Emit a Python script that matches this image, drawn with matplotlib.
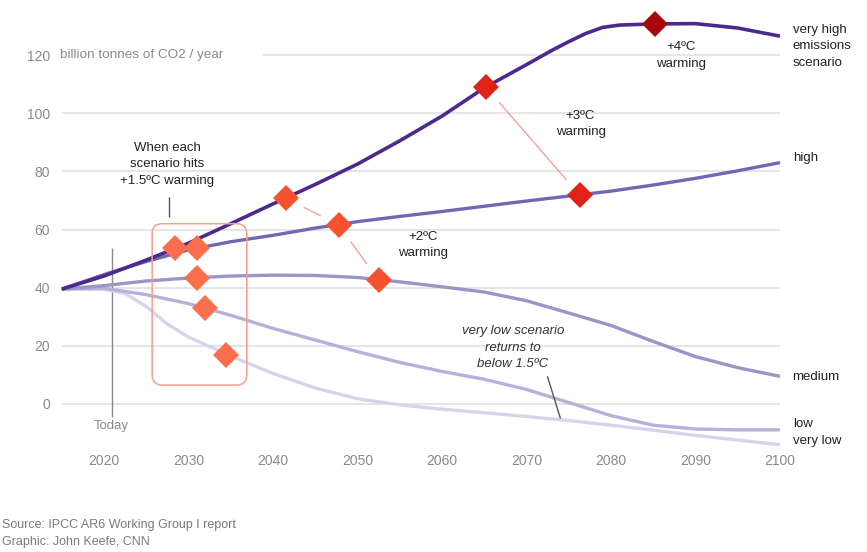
import matplotlib
matplotlib.use("Agg")
import matplotlib.pyplot as plt
from matplotlib.patches import FancyBboxPatch

plt.rcParams['font.family'] = ['Liberation Sans', 'DejaVu Sans']

# ---- data ----
vh_years = [2015, 2020, 2025, 2030, 2035, 2040, 2045, 2050, 2055, 2060, 2065, 2070,
            2073, 2075, 2077, 2079, 2081, 2085, 2090, 2095, 2100]
vh_vals = [39.5, 44, 49.5, 55.3, 62, 68.8, 75.5, 82.5, 90.5, 99, 108.7, 116.7,
           121.6, 124.6, 127.4, 129.5, 130.3, 130.7, 130.8, 129.3, 126.5]

hi_years = [2015, 2020, 2025, 2030, 2035, 2040, 2045, 2050, 2055, 2060, 2065, 2070,
            2075, 2080, 2085, 2090, 2095, 2100]
hi_vals = [39.5, 44.5, 49, 53, 55.8, 58, 60.5, 62.7, 64.5, 66.2, 68, 69.8,
           71.5, 73.2, 75.3, 77.6, 80.2, 83]

med_years = hi_years
med_vals = [39.5, 40.7, 42.3, 43.3, 44, 44.3, 44.2, 43.5, 42, 40.3, 38.5, 35.5,
            31.3, 27, 21.5, 16.3, 12.5, 9.5]

low_years = hi_years
low_vals = [39.5, 39.8, 37.6, 34.5, 30.5, 26, 22, 18, 14.3, 11.2, 8.5, 5,
            0.5, -4, -7.3, -8.6, -8.9, -8.9]

vl_years = [2015, 2020, 2022.5, 2025, 2027.5, 2030, 2035, 2040, 2045, 2050, 2055,
            2060, 2065, 2070, 2075, 2080, 2085, 2090, 2095, 2100]
vl_vals = [39.5, 39.5, 38, 33.5, 27.5, 23, 16.5, 10.5, 5.5, 1.8, -0.3,
           -1.8, -3, -4.3, -5.7, -7.3, -9, -10.8, -12.4, -14]

series_names = ["very high\nemissions\nscenario", "high", "medium", "low", "very low"]

# warming threshold crossings (year, emissions)
w15_years = [2028.4, 2031.0, 2031.0, 2031.9, 2034.4]
w15_vals = [53.6, 53.6, 43.3, 33.0, 16.8]
w20_years = [2041.5, 2047.8, 2052.5]
w20_vals = [70.8, 61.5, 42.5]
w30_years = [2065.2, 2076.3]
w30_vals = [109.0, 71.8]
w40_years = [2085.2]
w40_vals = [130.8]

y_ticks = [0, 20, 40, 60, 80, 100, 120]
x_ticks = [2020, 2030, 2040, 2050, 2060, 2070, 2080, 2090, 2100]
today_year = 2021

# ---- figure ----
fig = plt.figure(figsize=(8.67, 5.52), dpi=100)
ax = fig.add_axes([0.07122, 0.1786, 0.8284, 0.8165])
ax.set_xlim(2015, 2100)
ax.set_ylim(-17, 138)
for s in ax.spines.values():
    s.set_visible(False)

grid_c = "#e4e4e4"
for t in y_ticks:
    if t == 120:
        ax.hlines(t, 2038.8, 2100, color=grid_c, lw=1.3, zorder=0)
    else:
        ax.axhline(t, color=grid_c, lw=1.3, zorder=0)

ax.set_yticks(y_ticks)
ax.set_xticks(x_ticks)
ax.tick_params(axis='y', length=0, pad=8.5, labelsize=10, labelcolor="#8a8a8a")
ax.tick_params(axis='x', length=0, pad=0.5, labelsize=10, labelcolor="#8a8a8a")

ax.text(2014.8, 120, "billion tonnes of CO2 / year", ha='left', va='center',
        fontsize=9.7, color="#8a8a8a")

# Today line
ax.vlines(today_year, -4.5, 53.6, color="#8a8a8a", lw=1, zorder=1)
ax.text(today_year - 0.1, -7.5, "Today", ha='center', va='center', fontsize=9.5, color="#8a8a8a")

# lines
colors = ["#4a2b8d", "#7267b3", "#9b95c6", "#b5b1d8", "#d6d4eb"]
lws = [2.6, 2.4, 2.4, 2.4, 2.4]
data = [(vh_years, vh_vals), (hi_years, hi_vals), (med_years, med_vals),
        (low_years, low_vals), (vl_years, vl_vals)]
for i in range(4, -1, -1):
    x, y = data[i]
    ax.plot(x, y, color=colors[i], lw=lws[i], solid_capstyle='butt',
            solid_joinstyle='round', zorder=2 + (4 - i) * 0.1, clip_on=False)

txt_c = "#222222"
fs = 9.5
ls_ = 1.5

# right labels
label_pos = [123, 84.6, 9.3, -6.9, -12.7]
for name, yv in zip(series_names, label_pos):
    ax.text(2101.5, yv, name, ha='left', va='center', fontsize=fs, color=txt_c,
            linespacing=ls_)

# connectors
conn_c = "#f0a393"
def connect(xs, ys):
    for k in range(len(xs) - 1):
        ax.annotate("", xy=(xs[k + 1], ys[k + 1]), xytext=(xs[k], ys[k]),
                    arrowprops=dict(arrowstyle='-', color=conn_c, lw=1,
                                    shrinkA=15, shrinkB=15), zorder=3)
connect(w20_years, w20_vals)
connect(w30_years, w30_vals)

# markers
ms = 13
ax.plot(w15_years, w15_vals, 'D', color="#fb6f4d", ms=ms, mew=0, zorder=5, ls='none')
ax.plot(w20_years, w20_vals, 'D', color="#f7522f", ms=ms, mew=0, zorder=5, ls='none')
ax.plot(w30_years, w30_vals, 'D', color="#e02316", ms=ms, mew=0, zorder=5, ls='none')
ax.plot(w40_years, w40_vals, 'D', color="#a8080c", ms=ms, mew=0, zorder=5, ls='none',
        clip_on=False)

# 1.5C box
box = FancyBboxPatch((2025.7, 6.5), 2036.9 - 2025.7, 62 - 6.5,
                     boxstyle="round,pad=0,rounding_size=1.2", mutation_aspect=2.9,
                     fc='none', ec="#f3a08e", lw=1.1, zorder=4)
ax.add_patch(box)
ax.vlines(2027.7, 64.3, 71.2, color="#555555", lw=1, zorder=4)

ax.text(2027.5, 82.5, "When each\nscenario hits\n+1.5ºC warming", ha='center', va='center',
        fontsize=fs, color=txt_c, linespacing=ls_)
ax.text(2057.8, 54.7, "+2ºC\nwarming", ha='center', va='center', fontsize=fs, color=txt_c,
        linespacing=ls_)
ax.text(2076.4, 96.3, "+3ºC\nwarming", ha='center', va='center', fontsize=fs, color=txt_c,
        linespacing=ls_)
ax.text(2088.3, 119.8, "+4ºC\nwarming", ha='center', va='center', fontsize=fs, color=txt_c,
        linespacing=ls_)
ax.text(2068.4, 19.3, "very low scenario\nreturns to\nbelow 1.5ºC", ha='center', va='center',
        fontsize=fs, color="#333333", style='italic', linespacing=ls_)
ax.plot([2072.5, 2074.0], [9.3, -4.8], color="#555555", lw=1, zorder=4)

# footer
fig.text(2 / 867, 1 - 525 / 552, "Source: IPCC AR6 Working Group I report", ha='left',
         va='center', fontsize=9, color="#7a7a7a")
fig.text(2 / 867, 1 - 542 / 552, "Graphic: John Keefe, CNN", ha='left',
         va='center', fontsize=9, color="#7a7a7a")

fig.savefig("out.png", dpi=100)
